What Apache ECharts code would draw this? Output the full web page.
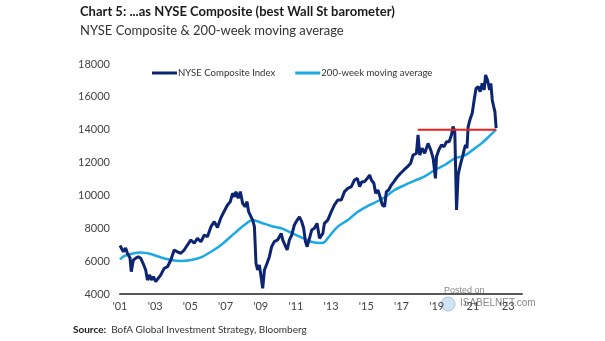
<!DOCTYPE html>
<html>
<head>
<meta charset="utf-8">
<script src="https://cdn.jsdelivr.net/npm/echarts@6/dist/echarts.min.js"></script>
<style>
html,body{margin:0;padding:0;background:#fff;}
#chart{width:605px;height:341px;}
</style>
</head>
<body>
<div id="chart"></div>
<script>
// ---- Data (decimal years, index values) ----
var nyseYears = [2001.00,2001.07,2001.19,2001.32,2001.42,2001.57,2001.64,2001.76,2001.89,2002.03,2002.18,2002.31,2002.46,2002.56,2002.69,2002.78,2002.90,2003.03,2003.13,2003.32,2003.51,2003.70,2003.89,2004.08,2004.26,2004.46,2004.65,2004.83,2005.03,2005.22,2005.40,2005.60,2005.79,2005.97,2006.17,2006.36,2006.54,2006.74,2006.93,2007.11,2007.27,2007.40,2007.50,2007.59,2007.72,2007.84,2007.97,2008.11,2008.22,2008.31,2008.45,2008.54,2008.64,2008.73,2008.82,2008.92,2009.02,2009.11,2009.21,2009.36,2009.49,2009.62,2009.77,2009.96,2010.16,2010.25,2010.38,2010.50,2010.63,2010.76,2010.91,2011.07,2011.20,2011.33,2011.44,2011.54,2011.64,2011.77,2011.90,2012.05,2012.20,2012.34,2012.53,2012.62,2012.81,2013.01,2013.19,2013.38,2013.58,2013.76,2013.95,2014.15,2014.33,2014.49,2014.62,2014.75,2014.90,2015.06,2015.19,2015.29,2015.43,2015.53,2015.66,2015.78,2015.91,2016.04,2016.14,2016.27,2016.42,2016.57,2016.77,2016.95,2017.14,2017.34,2017.52,2017.66,2017.85,2017.94,2018.04,2018.17,2018.32,2018.51,2018.66,2018.80,2018.93,2018.99,2019.12,2019.27,2019.42,2019.56,2019.71,2019.84,2019.93,2020.03,2020.13,2020.22,2020.28,2020.37,2020.47,2020.56,2020.64,2020.72,2020.79,2020.89,2021.02,2021.13,2021.24,2021.36,2021.47,2021.59,2021.70,2021.78,2021.89,2022.01,2022.08,2022.16,2022.24,2022.31,2022.38];
var nyseValues = [6950,6880,6575,6800,6480,6190,5360,6070,6170,6270,6170,5870,5460,4850,5160,4850,5050,4750,4650,5160,5560,5660,6070,6680,6570,6480,6680,6980,7290,7090,7390,7180,7590,7490,8100,8400,8050,8650,9050,9420,9620,10130,9920,10230,9830,10230,9520,9320,9620,9010,8700,8500,8100,5870,5460,5770,5050,4350,5460,5870,6270,6880,7190,7290,7690,7290,6980,6680,7290,7590,8200,8500,8700,8400,8000,7190,6880,7390,7900,8000,8300,7390,7690,8300,8500,9010,9420,9720,9720,10230,10430,10530,10940,11040,10530,10840,10840,11040,11240,10940,10740,10130,10330,9920,9420,9320,10230,10330,10630,10840,11140,11350,11550,11750,11960,12460,12560,13680,12460,12870,12560,13170,12770,12260,11040,12360,12770,13070,12970,13270,13270,13680,14190,13880,9110,11240,11550,11960,12360,12770,13070,12870,14190,14600,15000,15810,16520,16620,16320,16820,16420,17330,17030,16420,16820,15810,15410,15100,14090];

var maYears = [2001.00,2001.23,2001.61,2002.18,2002.75,2003.32,2003.89,2004.46,2005.03,2005.60,2006.17,2006.74,2007.50,2008.07,2008.54,2009.02,2009.59,2010.16,2010.73,2011.30,2011.87,2012.44,2012.65,2012.81,2013.38,2013.95,2014.52,2015.09,2015.66,2016.04,2016.61,2017.18,2017.75,2018.32,2018.89,2019.46,2020.03,2020.41,2020.79,2021.17,2021.55,2021.93,2022.38];
var maValues = [6110,6310,6430,6520,6430,6230,6070,6010,6070,6230,6570,6980,7690,8200,8500,8340,8140,8000,7730,7450,7180,7100,7180,7400,8100,8500,9010,9360,9660,9890,10330,10630,10900,11160,11550,11850,12260,12360,12560,12870,13170,13540,14020];

var refYears = [2017.92, 2022.38];
var refValues = [14000, 14000];

var yTicks = [4000, 6000, 8000, 10000, 12000, 14000, 16000, 18000];
var xBaseYear = 2001;

var seriesNames = ['NYSE Composite Index', '200-week moving average'];
var titleText = 'Chart 5: ...as NYSE Composite (best Wall St barometer)';
var subtitleText = 'NYSE Composite & 200-week moving average';

function pairs(xs, ys){ return xs.map(function(x,i){ return [x - xBaseYear, ys[i]]; }); }

var chart = echarts.init(document.getElementById('chart'), null, {renderer:'canvas'});
var FONT = 'Lato';
var option = {
  animation:false,
  backgroundColor:'#ffffff',
  grid:{left:120, right:83, top:64, bottom:47, containLabel:false},
  legend:{
    left:147, top:63, itemWidth:25, itemHeight:3, itemGap:20, icon:'rect',
    data: seriesNames,
    textStyle:{fontFamily:FONT, fontSize:9.6, color:'#333', padding:[0,0,0,-4]}
  },
  xAxis:{
    type:'value', min:0, max:22.85, interval:2,
    axisLine:{show:true, lineStyle:{color:'#595959', width:2}},
    axisTick:{show:false},
    splitLine:{show:false},
    axisLabel:{
      margin:7, fontFamily:FONT, fontSize:11, color:'#444', showMaxLabel:false,
      formatter:function(v){ if (Math.abs(v - Math.round(v)) > 1e-6 || Math.round(v) % 2 !== 0) return ''; var y = xBaseYear + Math.round(v); return "'" + String(y).slice(2); }
    }
  },
  yAxis:{
    type:'value', min:yTicks[0], max:yTicks[yTicks.length-1], interval:2000,
    axisLine:{show:false}, axisTick:{show:false}, splitLine:{show:false},
    axisLabel:{margin:10, fontFamily:FONT, fontSize:11, color:'#444', formatter:function(v){ return String(v); }}
  },
  series:[
    {name:seriesNames[1], type:'line', data:pairs(maYears, maValues), showSymbol:false, smooth:0.3,
     lineStyle:{color:'#1BA9E6', width:2.5}, itemStyle:{color:'#1BA9E6'}, z:2},
    {name:seriesNames[0], type:'line', data:pairs(nyseYears, nyseValues), showSymbol:false,
     lineStyle:{color:'#0C2471', width:3}, itemStyle:{color:'#0C2471'}, z:3},
    {name:'ref', type:'line', data:pairs(refYears, refValues), showSymbol:false,
     lineStyle:{color:'#E8231E', width:2}, itemStyle:{color:'#E8231E'}, z:4}
  ],
  graphic:[
    {type:'text', left:80, top:5, style:{text:titleText, font:'bold 13px '+FONT, fill:'#1a1a1a'}},
    {type:'text', left:80, top:24, style:{text:subtitleText, font:'13px '+FONT, fill:'#333'}},
    {type:'text', left:73, top:325, style:{
      text:'{b|Source:}  BofA Global Investment Strategy, Bloomberg',
      rich:{b:{font:'bold 10px '+FONT, fill:'#1a1a1a'}}, font:'10px '+FONT, fill:'#333'}},
    {type:'text', left:444, top:286, style:{text:'Posted on', font:'9px Arial', fill:'#888'}},
    {type:'circle', shape:{cx:448, cy:304, r:7}, style:{fill:'#cfe3f2', stroke:'#a9c4dc'}},
    {type:'text', left:460, top:298, style:{text:'ISABELNET.com', font:'10px Arial', fill:'#888'}}
  ]
};
chart.setOption(option);
</script>
</body>
</html>
